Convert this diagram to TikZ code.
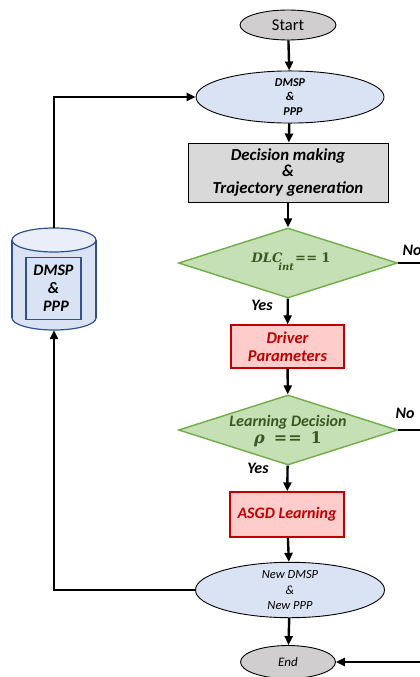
\documentclass[tikz,border=0pt]{standalone}
\usepackage{fontspec}
\setmainfont{Carlito}
\newfontfamily\mathlikefont{DejaVu Serif}
\usetikzlibrary{shapes.geometric,arrows.meta}
\definecolor{grayell}{HTML}{D0CECE}
\definecolor{grayboxcol}{HTML}{D9D9D9}
\definecolor{blueell}{HTML}{DAE3F3}
\definecolor{greenfill}{HTML}{C5E0B4}
\definecolor{greenline}{HTML}{70AD47}
\definecolor{greentext}{HTML}{385723}
\definecolor{redfill}{HTML}{FFCCCC}
\definecolor{redline}{HTML}{C00000}
\definecolor{cylline}{HTML}{2F528F}
\tikzset{
  flow/.style={line width=2.4pt,-{Triangle[length=9pt,width=8pt]}},
  plain/.style={line width=2.4pt},
  grayellipse/.style={ellipse,draw=black,line width=0.9pt,fill=grayell,inner sep=0pt},
  blueellipse/.style={ellipse,draw=black,line width=0.9pt,fill=blueell,inner sep=0pt,align=center},
  grayrect/.style={rectangle,draw=black,line width=0.9pt,fill=grayboxcol,inner sep=0pt,align=center},
  redrect/.style={rectangle,draw=redline,line width=1.4pt,fill=redfill,inner sep=0pt,align=center,text=redline},
  greendiamond/.style={diamond,draw=greenline,line width=1.4pt,fill=greenfill,inner sep=0pt,aspect=3.13,minimum width=219pt,minimum height=70pt},
  greentxt/.style={align=center,text=greentext,inner sep=0pt},
  lbl/.style={font=\fontsize{16}{18}\selectfont\bfseries\itshape}
}
\begin{document}
\begin{tikzpicture}[x=1pt,y=-1pt]
\useasboundingbox (0,0) rectangle (420,677);
% nodes
\node[grayellipse,minimum width=96pt,minimum height=30pt,font=\fontsize{16.5}{20}\selectfont] (start) at (288,25) {Start};
\node[blueellipse,minimum width=188pt,minimum height=46pt,font=\fontsize{12}{14.5}\selectfont\bfseries\itshape] (dmsp) at (290,97) {DMSP\\\&\\\hspace*{6pt}PPP};
\node[grayrect,minimum width=200pt,minimum height=59pt,font=\fontsize{16.8}{16.5}\selectfont\bfseries\itshape] (dm) at (288,172.5) {Decision making\\\&\\Trajectory generation};
\node[greendiamond] (dlc) at (288,263) {};
\node[greentxt,font=\mathlikefont\bfseries\fontsize{13}{15}\selectfont] (dlct) at (291,262) {\textit{DLC}\kern-4pt\raisebox{-8pt}{\fontsize{10}{10}\selectfont\textit{int}}\kern1pt{=\kern0.5pt=}\kern4pt{1}};
\node[redrect,minimum width=113pt,minimum height=43pt,font=\fontsize{16.5}{18}\selectfont\bfseries\itshape] (drv) at (287.5,346.5) {Driver\\Parameters};
\node[greendiamond] (learn) at (288,430) {};
\node[greentxt,font=\fontsize{16}{17}\selectfont\bfseries\itshape] (learnt) at (288,431) {Learning Decision\\{\mathlikefont\fontsize{16}{17}\selectfont\textit{ρ}\kern9pt\textup{=\kern1pt=}\kern9pt\textup{1}}};
\node[redrect,minimum width=114pt,minimum height=45pt,font=\fontsize{16}{18}\selectfont\bfseries\itshape] (asgd) at (287,514.5) {ASGD Learning};
\node[blueellipse,minimum width=189pt,minimum height=55pt,font=\fontsize{12.5}{15.5}\selectfont\itshape] (newd) at (290,590) {New DMSP\\\&\\New PPP};
\node[grayellipse,minimum width=95pt,minimum height=33pt,font=\fontsize{13}{14}\selectfont\itshape] (end) at (288,662) {End};
% cylinder (database)
\filldraw[draw=cylline,fill=blueell,line width=1.2pt] (54,318) ellipse [x radius=42pt,y radius=12pt];
\fill[blueell] (12,240) rectangle (96,318);
\draw[cylline,line width=1.2pt] (12,240) -- (12,318) (96,240) -- (96,318);
\filldraw[draw=cylline,fill=blueell!60!white,line width=1.2pt] (54,240) ellipse [x radius=42pt,y radius=12pt];
\node[rectangle,draw=cylline,line width=1.2pt,fill=blueell,minimum width=55pt,minimum height=62pt,inner sep=0pt,align=center,font=\fontsize{16}{18}\selectfont\bfseries\itshape] (db) at (53.5,288.5) {DMSP\\\&\\\hspace*{5pt}PPP};
\coordinate (cyltop) at (54,228);
\coordinate (cylbot) at (54,330);
% coordinates
\coordinate (c1) at (54,97);
\coordinate (c2) at (54,590);
\coordinate (no1) at (420,263);
\coordinate (no2) at (420,430);
\coordinate (endin) at (420,662);
% connectors
\draw[flow] (start) -- (dmsp);
\draw[flow] (dmsp) -- (dm);
\draw[flow] (dm) -- (dlc);
\draw[flow] (dlc) -- (drv);
\draw[flow] (drv) -- (learn);
\draw[flow] (learn) -- (asgd);
\draw[flow] (asgd) -- (newd);
\draw[flow] (newd) -- (end);
\draw[plain] (dlc.east) -- (no1);
\draw[plain] (learn.east) -- (no2);
\draw[flow] (endin) -- (end.east);
\draw[flow] (newd.west) -- (c2) -- (cylbot);
\draw[flow] (cyltop) -- (c1) -- (dmsp.west);
% labels
\node[lbl] (no1l) at (412,250) {No};
\node[lbl] (no2l) at (405,413) {No};
\node[lbl] (yes1) at (262,305) {Yes};
\node[lbl] (yes2) at (258,468) {Yes};
\end{tikzpicture}
\end{document}
